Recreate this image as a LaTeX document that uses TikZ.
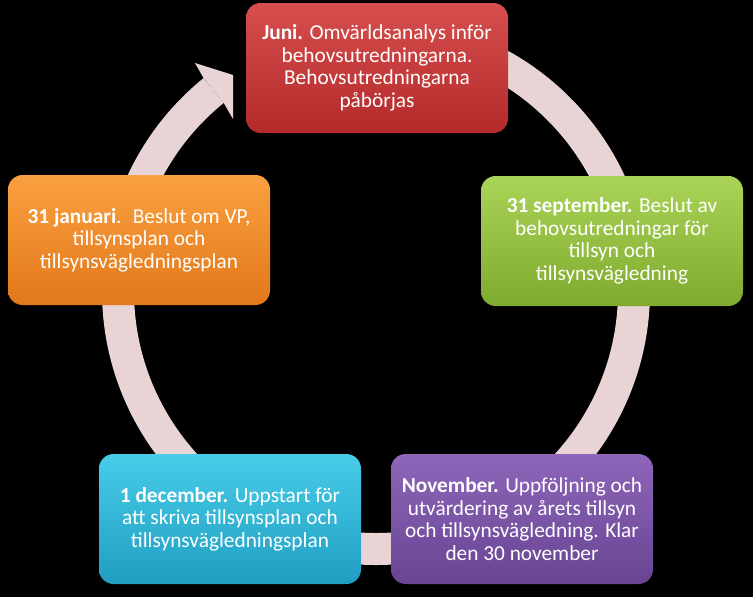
\documentclass[tikz,border=0pt]{standalone}
\usepackage{fontspec}
\setmainfont{Carlito}
\definecolor{ringc}{RGB}{232,212,212}
\definecolor{redT}{RGB}{214,78,78}
\definecolor{redM}{RGB}{198,56,56}
\definecolor{redB}{RGB}{180,42,42}
\definecolor{grnT}{RGB}{170,212,88}
\definecolor{grnM}{RGB}{150,196,64}
\definecolor{grnB}{RGB}{126,170,46}
\definecolor{purT}{RGB}{142,102,186}
\definecolor{purM}{RGB}{126,86,168}
\definecolor{purB}{RGB}{104,68,146}
\definecolor{cyaT}{RGB}{72,204,232}
\definecolor{cyaM}{RGB}{46,186,218}
\definecolor{cyaB}{RGB}{32,158,194}
\definecolor{oraT}{RGB}{250,160,64}
\definecolor{oraM}{RGB}{242,142,42}
\definecolor{oraB}{RGB}{226,120,26}
\begin{document}
\begin{tikzpicture}[x=0.75pt,y=-0.75pt,
  box/.style={rounded corners=11pt, minimum width=196.5pt, minimum height=97.5pt,
    align=center, text=white, font=\fontsize{16}{16.9}\selectfont, inner sep=2pt},
  ring/.style={ringc, line width=24pt}
]
\fill[black] (0,0) rectangle (753,597);
\useasboundingbox (0,0) rectangle (753,597);
\coordinate (c) at (376,291);
\draw[ring] (c) ++(-90:258) arc[start angle=-90, end angle=231, radius=258];
\fill[ringc] (203.6,78.1) -- (195,63) -- (233,75) -- (233,119) -- (223.7,102.9) -- cycle;

\node[box, top color=redT, middle color=redM, bottom color=redB] (juni) at (377,68)
  {\textbf{Juni.} Omvärldsanalys inför\\behovsutredningarna.\\Behovsutredningarna\\påbörjas};
\node[box, top color=grnT, middle color=grnM, bottom color=grnB] (sept) at (612,241)
  {\textbf{31 september.} Beslut av\\behovsutredningar för\\tillsyn och\\tillsynsvägledning};
\node[box, top color=purT, middle color=purM, bottom color=purB] (nov) at (522,519)
  {\textbf{November.} Uppföljning och\\utvärdering av årets tillsyn\\och tillsynsvägledning. Klar\\den 30 november};
\node[box, top color=cyaT, middle color=cyaM, bottom color=cyaB] (dec) at (230,519)
  {\textbf{1 december.} Uppstart för\\att skriva tillsynsplan och\\tillsynsvägledningsplan};
\node[box, top color=oraT, middle color=oraM, bottom color=oraB] (jan) at (139,240)
  {\textbf{31 januari}. \ Beslut om VP,\\tillsynsplan och\\tillsynsvägledningsplan};
\end{tikzpicture}
\end{document}
